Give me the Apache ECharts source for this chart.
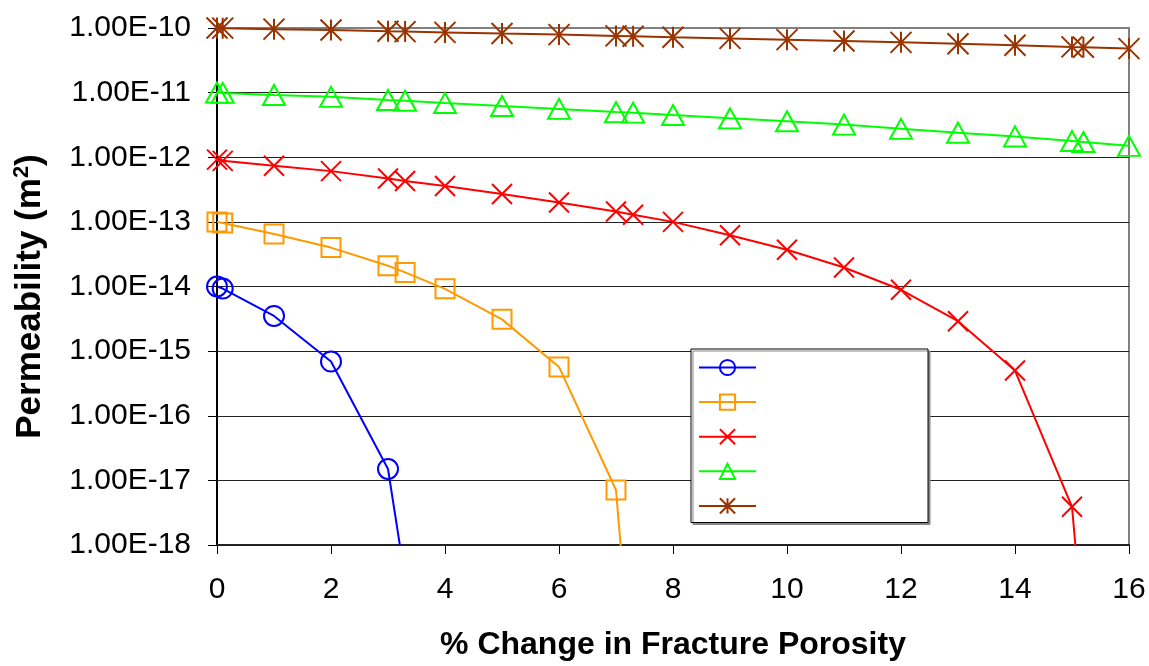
<!DOCTYPE html>
<html><head><meta charset="utf-8">
<script src="https://cdn.jsdelivr.net/npm/echarts@6/dist/echarts.min.js"></script>
<style>html,body{margin:0;padding:0;background:#fff}#c{width:1149px;height:666px}</style>
</head><body><div id="c"></div>
<script>
// Shared x positions (% change in fracture porosity)
const xValues = [0, 0.1, 1, 2, 3, 3.3, 4, 5, 6, 7, 7.3, 8, 9, 10, 11, 12, 13, 14, 15, 15.2, 16];

// Permeability values (m^2) per curve, aligned with xValues from the start
const blueValues = [1.0e-14, 9.3e-15, 3.5e-15, 6.9e-16, 1.5e-17, 3e-19];
const orangeValues = [1.0e-13, 9.6e-14, 6.5e-14, 4.0e-14, 2.1e-14, 1.65e-14, 9.2e-15, 3.1e-15, 5.7e-16, 7.1e-18, 5e-21];
const redValues = [9.2e-13, 8.8e-13, 7.4e-13, 6.1e-13, 4.7e-13, 4.3e-13, 3.6e-13, 2.7e-13, 2.0e-13, 1.45e-13, 1.29e-13, 1.0e-13, 6.2e-14, 3.7e-14, 1.97e-14, 8.9e-15, 2.9e-15, 5.0e-16, 3.9e-18, 4e-20];
const greenValues = [1.0e-11, 9.9e-12, 9.2e-12, 8.6e-12, 7.7e-12, 7.5e-12, 6.9e-12, 6.2e-12, 5.6e-12, 5.0e-12, 4.9e-12, 4.5e-12, 4.0e-12, 3.6e-12, 3.2e-12, 2.75e-12, 2.4e-12, 2.1e-12, 1.78e-12, 1.72e-12, 1.5e-12];
const brownValues = [1.0e-10, 9.95e-11, 9.6e-11, 9.3e-11, 8.9e-11, 8.8e-11, 8.55e-11, 8.2e-11, 7.9e-11, 7.55e-11, 7.45e-11, 7.2e-11, 6.9e-11, 6.6e-11, 6.3e-11, 6.0e-11, 5.7e-11, 5.4e-11, 5.1e-11, 5.05e-11, 4.8e-11];

// Tick labels
const yTickLabels = ['1.00E-18', '1.00E-17', '1.00E-16', '1.00E-15', '1.00E-14', '1.00E-13', '1.00E-12', '1.00E-11', '1.00E-10'];
const xTitle = '% Change in Fracture Porosity';
const yTitle = 'Permeability (m{sup|2})';

const FONT = '"Liberation Sans", Arial, sans-serif';
const X_PATH = 'path://M0,0L10,10M10,0L0,10';
const STAR_PATH = 'path://M0,0L10,10M10,0L0,10M5,0L5,10';

const curves = [
  { name: 'c1', values: blueValues, color: '#0000FF', symbol: 'circle', size: 20 },
  { name: 'c2', values: orangeValues, color: '#FF9900', symbol: 'rect', size: 19 },
  { name: 'c3', values: redValues, color: '#FF0000', symbol: X_PATH, size: 20 },
  { name: 'c4', values: greenValues, color: '#00FF00', symbol: 'triangle', size: [22, 20] },
  { name: 'c5', values: brownValues, color: '#993300', symbol: STAR_PATH, size: 21 }
];

const chart = echarts.init(document.getElementById('c'), null, { renderer: 'canvas' });
chart.setOption({
  animation: false,
  backgroundColor: '#fff',
  grid: { left: 217, right: 20, top: 28, bottom: 115, show: true, borderColor: '#808080', borderWidth: 2, backgroundColor: '#fff' },
  legend: {
    orient: 'vertical', left: 691, top: 349,
    itemWidth: 57, itemHeight: 19, itemGap: 16.5,
    padding: [9, 171, 8, 7],
    backgroundColor: '#fff', borderColor: '#000', borderWidth: 1,
    shadowColor: '#888', shadowOffsetX: 2, shadowOffsetY: 2, shadowBlur: 0,
    selectedMode: false,
    formatter: () => '',
    data: curves.map(c => ({
      name: c.name,
      itemStyle: { color: 'transparent', borderColor: c.color, borderWidth: 2 },
      lineStyle: { color: c.color, width: 2 }
    }))
  },
  xAxis: {
    type: 'value', min: 0, max: 16, interval: 2,
    name: xTitle, nameLocation: 'middle', nameGap: 84,
    nameTextStyle: { fontSize: 32, fontWeight: 'bold', color: '#000', fontFamily: FONT },
    axisLine: { show: true, lineStyle: { color: '#222', width: 2 } },
    axisTick: { show: true, length: 9, lineStyle: { color: '#000', width: 1 } },
    axisLabel: { fontSize: 30, color: '#000', fontFamily: FONT, margin: 30 },
    splitLine: { show: false }
  },
  yAxis: {
    type: 'log', logBase: 10, min: 1e-18, max: 1e-10,
    name: yTitle, nameLocation: 'middle', nameGap: 168,
    nameTextStyle: {
      fontSize: 35, fontWeight: 'bold', color: '#000', fontFamily: FONT,
      padding: [0, 20, 0, 0],
      rich: { sup: { fontSize: 22, fontWeight: 'bold', color: '#000', fontFamily: FONT, verticalAlign: 'top', padding: [0, 0, 16, 0] } }
    },
    axisLine: { show: true, lineStyle: { color: '#000', width: 2 } },
    axisTick: { show: true, length: 9, lineStyle: { color: '#000', width: 1 } },
    axisLabel: {
      fontSize: 30, color: '#000', fontFamily: FONT, margin: 26,
      formatter: v => yTickLabels[Math.round(Math.log10(v)) + 18]
    },
    splitLine: { show: true, showMaxLine: false, lineStyle: { color: '#222', width: 1 } }
  },
  series: curves.map((c, k) => ({
    name: c.name,
    type: 'line',
    data: c.values.map((v, i) => [xValues[i], v]),
    symbol: c.symbol,
    symbolSize: c.size,
    showAllSymbol: true,
    clip: true,
    lineStyle: { color: c.color, width: 2 },
    itemStyle: { color: 'transparent', borderColor: c.color, borderWidth: 2 },
    emphasis: { disabled: true },
    z: 2 + k
  }))
});
</script></body></html>
